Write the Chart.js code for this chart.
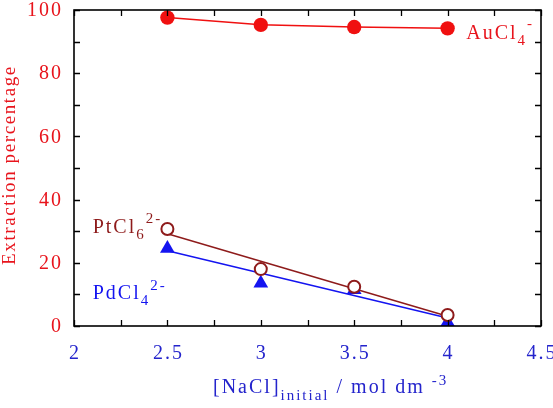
<!DOCTYPE html>
<html>
<head>
<meta charset="utf-8">
<script src="https://cdn.jsdelivr.net/npm/chart.js@4.4.1/dist/chart.umd.min.js"></script>
<style>
  body { margin: 0; background: #fff; }
  #wrap { width: 553px; height: 408px; }
</style>
</head>
<body>
<div id="wrap"><canvas id="c" width="553" height="408"></canvas></div>
<script>
// NaCl concentrations (mol dm-3)
var naclConc = [2.5, 3, 3.5, 4];
// extraction percentages
var auCl4 = [97.6, 95.3, 94.6, 94.2];
var ptCl6 = [30.7, 18, 12.4, 3.5];
var pdCl4 = [24.5, 13.5, 11.5, 1.2];
// straight fitted lines (end points)
var fitX = [2.5, 4];
var ptFit = [29.2, 3.1];
var pdFit = [23.8, 2.5];

var xTicks = [2, 2.5, 3, 3.5, 4, 4.5];
var yTicks = [0, 20, 40, 60, 80, 100];

var RED = '#f01010', DARKRED = '#8e1b1b', BLUE = '#1414f0';
var TXTRED = '#e8141c', TXTBLUE = '#2424cc';
var SERIF = '"Liberation Serif", "Times New Roman", serif';

function pts(xs, ys) {
    return xs.map(function (x, i) { return { x: x, y: ys[i] }; });
}

// draws text pieces in a row: [text, size, baselineShift]
function rich(ctx, parts, x, y, color) {
    ctx.save();
    ctx.fillStyle = color;
    ctx.textAlign = 'left';
    ctx.textBaseline = 'alphabetic';
    ctx.letterSpacing = '2px';
    parts.forEach(function (p) {
        ctx.font = p[1] + 'px ' + SERIF;
        ctx.fillText(p[0], x, y + p[2]);
        x += ctx.measureText(p[0]).width;
    });
    ctx.restore();
}

var framePlugin = {
    id: 'frame',
    afterDatasetsDraw: function (chart) {
        var ctx = chart.ctx, a = chart.chartArea;
        var xs = chart.scales.x, ys = chart.scales.y;
        ctx.save();
        ctx.strokeStyle = '#000';
        ctx.lineWidth = 1.6;
        ctx.strokeRect(a.left, a.top, a.right - a.left, a.bottom - a.top);
        ctx.lineWidth = 1.3;
        ctx.beginPath();
        for (var v = 2; v <= 4.5; v += 0.25) {
            var px = Math.round(xs.getPixelForValue(v)) + 0.5;
            ctx.moveTo(px, a.bottom); ctx.lineTo(px, a.bottom - 6);
            ctx.moveTo(px, a.top); ctx.lineTo(px, a.top + 6);
        }
        for (var w = 0; w <= 100; w += 10) {
            var py = Math.round(ys.getPixelForValue(w)) + 0.5;
            ctx.moveTo(a.left, py); ctx.lineTo(a.left + 6, py);
            ctx.moveTo(a.right, py); ctx.lineTo(a.right - 6, py);
        }
        ctx.stroke();

        // tick labels
        ctx.letterSpacing = '2px';
        ctx.font = '20px ' + SERIF;
        ctx.fillStyle = TXTRED;
        ctx.textAlign = 'right';
        ctx.textBaseline = 'middle';
        ys.ticks.forEach(function (t) {
            ctx.fillText(String(t.value), a.left - 11, ys.getPixelForValue(t.value) + 1);
        });
        ctx.fillStyle = TXTBLUE;
        ctx.textAlign = 'center';
        ctx.textBaseline = 'alphabetic';
        xs.ticks.forEach(function (t) {
            ctx.fillText(String(t.value), xs.getPixelForValue(t.value) + 1, a.bottom + 33);
        });
        ctx.restore();
    },
    afterDraw: function (chart) {
        var ctx = chart.ctx, a = chart.chartArea;
        var xs = chart.scales.x, ys = chart.scales.y;

        // y title
        ctx.save();
        ctx.translate(15, (a.top + a.bottom) / 2 - 3);
        ctx.rotate(-Math.PI / 2);
        ctx.fillStyle = TXTRED;
        ctx.font = '19px ' + SERIF;
        ctx.letterSpacing = '1.6px';
        ctx.textAlign = 'center';
        ctx.textBaseline = 'alphabetic';
        ctx.fillText('Extraction percentage', 0, 0);
        ctx.restore();

        // x title
        rich(ctx, [['[NaCl]', 20, 0], ['initial', 15, 7], [' / mol dm ', 20, 0], ['-3', 15, -8]],
             213, 393, TXTBLUE);

        // series labels
        rich(ctx, [['AuCl', 20, 0], ['4', 15, 6], ['-', 15, -11]],
             xs.getPixelForValue(4.1), ys.getPixelForValue(90.8), TXTRED);
        rich(ctx, [['PtCl', 20, 0], ['6', 15, 6], ['2-', 15, -10]],
             xs.getPixelForValue(2.1), ys.getPixelForValue(29.4), DARKRED);
        rich(ctx, [['PdCl', 20, 0], ['4', 15, 6], ['2-', 15, -9]],
             xs.getPixelForValue(2.1), ys.getPixelForValue(8.6), BLUE);
    }
};

new Chart(document.getElementById('c').getContext('2d'), {
    type: 'scatter',
    data: {
        datasets: [
            { data: pts(naclConc, ptCl6), showLine: false, pointStyle: 'circle', pointRadius: 6,
              pointBorderWidth: 2, borderColor: DARKRED, backgroundColor: '#fff', clip: 0 },
            { data: pts(naclConc, auCl4), showLine: true, pointStyle: 'circle', pointRadius: 7.2,
              pointBorderWidth: 0, borderColor: RED, backgroundColor: RED, borderWidth: 1.5,
              pointBackgroundColor: RED, clip: 0 },
            { data: pts(naclConc, pdCl4), showLine: false, pointStyle: 'triangle', pointRadius: 8.5,
              pointBorderWidth: 0, borderColor: BLUE, backgroundColor: BLUE, clip: 0 },
            { data: pts(fitX, ptFit), showLine: true, pointRadius: 0, borderColor: DARKRED,
              borderWidth: 1.5, clip: 0 },
            { data: pts(fitX, pdFit), showLine: true, pointRadius: 0, borderColor: BLUE,
              borderWidth: 1.5, clip: 0 }
        ]
    },
    options: {
        responsive: false,
        animation: false,
        events: [],
        layout: { padding: { top: 10, right: 12, left: 0, bottom: 0 } },
        plugins: { legend: { display: false }, tooltip: { enabled: false } },
        scales: {
            x: {
                type: 'linear', min: 2, max: 4.5,
                afterFit: function (s) { s.height = 82; s.paddingLeft = 0; s.paddingRight = 0; },
                afterBuildTicks: function (s) { s.ticks = xTicks.map(function (v) { return { value: v }; }); },
                grid: { display: false },
                border: { display: false },
                ticks: { display: false }
            },
            y: {
                type: 'linear', min: 0, max: 100,
                afterFit: function (s) { s.width = 74; s.paddingTop = 0; s.paddingBottom = 0; },
                afterBuildTicks: function (s) { s.ticks = yTicks.map(function (v) { return { value: v }; }); },
                grid: { display: false },
                border: { display: false },
                ticks: { display: false }
            }
        }
    },
    plugins: [framePlugin]
});
</script>
</body>
</html>
